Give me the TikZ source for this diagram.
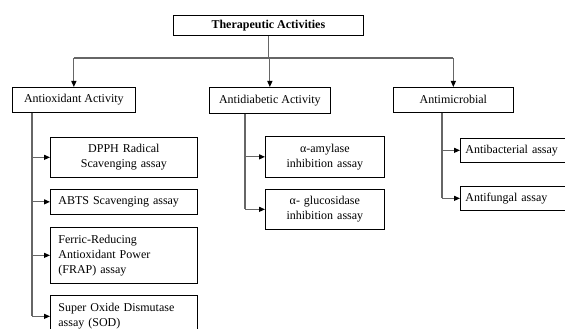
\documentclass[tikz,border=0pt]{standalone}
\usepackage{fontspec}
\setmainfont{Liberation Serif}
\usetikzlibrary{arrows.meta}
\begin{document}
\begin{tikzpicture}[x=1pt,y=-1pt,font=\fontsize{12}{15}\selectfont,
  box/.style={draw,line width=0.7pt,anchor=north west,inner xsep=8pt,inner ysep=0pt},
  link/.style={draw=black!60,line width=1.1pt},
  tip/.style={link,-{Triangle[length=6pt,width=5pt,color=black]}}]
\useasboundingbox (0,0) rectangle (565,329);
\clip (0,0) rectangle (565,329);

% top and categories
\node[box,minimum width=190,minimum height=20] (thera) at (173,15) {\bfseries Therapeutic Activities};
\node[box,minimum width=123,minimum height=25] (antiox) at (12,87) {Antioxidant Activity};
\node[box,minimum width=121,minimum height=26] (antidiab) at (209,87) {Antidiabetic Activity};
\node[box,minimum width=120,minimum height=25] (antimic) at (393,87) {Antimicrobial};

\coordinate (bus) at (0,58);
\draw[link] (thera.south) -- (thera.south |- bus);
\draw[link] (antiox.north |- bus) -- (antimic.north |- bus);
\foreach \n in {antiox,antidiab,antimic}
  \draw[tip] (\n.north |- bus) -- (\n.north);

% antioxidant assays
\node[box,minimum height=40,text width=131,align=center] (dpph) at (50,137) {DPPH Radical\\Scavenging assay};
\node[box,minimum height=25,text width=131,align=left] (abts) at (50,189) {ABTS Scavenging assay};
\node[box,minimum height=56,text width=131,align=left] (frap) at (50,227) {Ferric-Reducing\\Antioxidant Power\\(FRAP) assay};
\node[box,minimum height=42,text width=131,align=left] (sod) at (50,295) {Super Oxide Dismutase\\assay (SOD)};

% antidiabetic assays
\node[box,minimum height=41,text width=103,align=center] (amyl) at (265,136) {α-amylase\\inhibition assay};
\node[box,minimum height=40,text width=103,align=center] (gluc) at (265,189) {α- glucosidase\\inhibition assay};

% antimicrobial assays
\node[box,inner xsep=5pt,minimum height=24,text width=105,align=left] (antibac) at (460,138) {Antibacterial assay};
\node[box,inner xsep=5pt,minimum height=24,text width=105,align=left] (antifun) at (460,186) {Antifungal assay};

\coordinate (oxroot) at ([xshift=20pt]antiox.south west);
\coordinate (diabroot) at ([xshift=36pt]antidiab.south west);
\coordinate (microot) at ([xshift=49pt]antimic.south west);

\draw[link] (oxroot) -- (oxroot |- sod.west);
\foreach \n in {dpph,abts,frap,sod}
  \draw[tip] (oxroot |- \n.west) -- (\n.west);

\draw[link] (diabroot) -- (diabroot |- gluc.west);
\foreach \n in {amyl,gluc}
  \draw[tip] (diabroot |- \n.west) -- (\n.west);

\draw[link] (microot) -- (microot |- antifun.west);
\foreach \n in {antibac,antifun}
  \draw[tip] (microot |- \n.west) -- (\n.west);

\end{tikzpicture}
\end{document}
